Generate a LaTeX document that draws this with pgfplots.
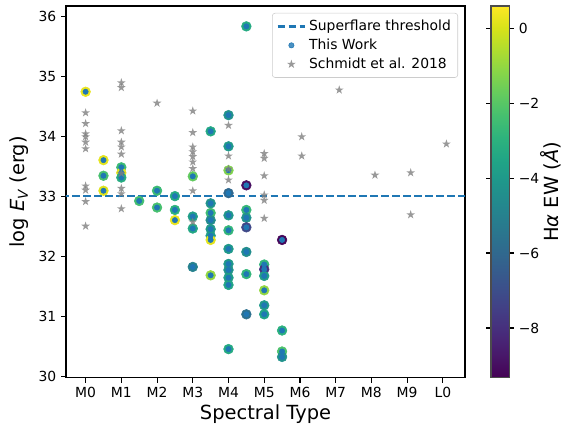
\documentclass[border=0pt]{standalone}
\usepackage{fontspec}
\setmainfont{DejaVu Sans}
\usepackage{pgfplots}
\usepackage{pgfplotstable}
\pgfplotsset{compat=1.18}

\definecolor{cblue}{HTML}{1F77B4}
\definecolor{mgray}{HTML}{808080}

\pgfplotsset{
  lineleg/.style={legend image code/.code={\draw[##1] (0pt,0pt) -- (20pt,0pt);}},
  markleg/.style={legend image code/.code={\draw[mark repeat=2, mark phase=2, ##1] plot coordinates {(0pt,0pt) (10pt,0pt) (20pt,0pt)};}},
}

% filled five-pointed star, like matplotlib '*'
\pgfdeclareplotmark{fstar}{%
  \pgfpathmoveto{\pgfpointpolar{90}{\pgfplotmarksize}}%
  \pgfpathlineto{\pgfpointpolar{126}{0.382\pgfplotmarksize}}%
  \pgfpathlineto{\pgfpointpolar{162}{\pgfplotmarksize}}%
  \pgfpathlineto{\pgfpointpolar{198}{0.382\pgfplotmarksize}}%
  \pgfpathlineto{\pgfpointpolar{234}{\pgfplotmarksize}}%
  \pgfpathlineto{\pgfpointpolar{270}{0.382\pgfplotmarksize}}%
  \pgfpathlineto{\pgfpointpolar{306}{\pgfplotmarksize}}%
  \pgfpathlineto{\pgfpointpolar{342}{0.382\pgfplotmarksize}}%
  \pgfpathlineto{\pgfpointpolar{18}{\pgfplotmarksize}}%
  \pgfpathlineto{\pgfpointpolar{54}{0.382\pgfplotmarksize}}%
  \pgfpathclose
  \pgfusepathqfill}

% this work: spectral type (M0=0), log E, H-alpha EW
\pgfplotstableread{
x y c
0 34.74 0.3
0.5 33.60 0.2
0.5 33.34 -2.3
0.5 33.09 0.1
1 33.48 -2.6
1 33.39 0.2
1 33.31 -3.2
1.5 32.92 -2.4
2 33.09 -2.6
2 32.81 -2.3
2.5 33.00 -3.3
2.5 32.77 -3.0
2.5 32.60 0.3
3 33.33 -1.8
3 32.66 -3.8
3 32.46 -3.4
3 31.82 -5.0
3.5 34.08 -3.4
3.5 32.88 -4.3
3.5 32.72 -2.5
3.5 32.60 -4.6
3.5 32.45 -4.0
3.5 32.34 -3.9
3.5 32.27 0.2
3.5 31.68 -1.0
4 34.35 -4.3
4 33.83 -4.0
4 33.43 -1.3
4 33.05 -6.0
4 32.68 -4.1
4 32.43 -2.8
4 32.12 -4.0
4 31.87 -4.0
4 31.77 -4.3
4 31.64 -3.8
4 31.52 -3.5
4 30.45 -3.3
4.5 35.83 -3.3
4.5 33.18 -9.0
4.5 32.77 -2.7
4.5 32.64 -4.3
4.5 32.48 -7.2
4.5 32.07 -4.5
4.5 31.70 -2.8
4.5 31.03 -5.7
5 31.86 -2.8
5 31.78 -8.0
5 31.67 -3.8
5 31.43 -1.0
5 31.18 -4.0
5 31.03 -3.6
5.5 32.27 -9.2
5.5 30.76 -3.0
5.5 30.41 -2.2
5.5 30.32 -4.3
}\thiswork

% Schmidt et al. 2018
\pgfplotstableread{
x y
0 34.39
0 34.21
0 34.04
0 33.99
0 33.90
0 33.79
0 33.17
0 33.10
0 32.91
0 32.50
1 34.89
1 34.81
1 34.09
1 33.90
1 33.82
1 33.70
1 33.38
1 33.13
1 33.04
1 32.79
2 34.55
3 34.42
3 34.06
3 33.82
3 33.74
3 33.66
3 33.57
3 33.46
3 33.09
3 32.57
4 34.18
4 33.67
4 33.45
4 33.27
5 33.71
5 33.63
5 33.34
5 33.02
5 32.93
5 32.63
6.05 33.99
6.05 33.67
7.1 34.77
8.1 33.35
9.1 33.39
9.1 32.69
10.1 33.87
}\schmidt

\begin{document}
\begin{tikzpicture}
\useasboundingbox (-47.5pt,-33.8pt) rectangle (358.6pt,272.1pt);
\begin{axis}[
    width=287.3pt, height=267.8pt, scale only axis,
    xmin=-0.55, xmax=10.62,
    ymin=29.97, ymax=36.17,
    xtick={0,1,2,3,4,5,6,7,8,9,10},
    xticklabels={M0,M1,M2,M3,M4,M5,M6,M7,M8,M9,L0},
    ytick={30,31,32,33,34,35,36},
    xtick pos=bottom, ytick pos=left,
    tick align=outside, major tick length=3.5pt,
    tick style={black, line width=0.8pt},
    axis line style={line width=0.8pt},
    ticklabel style={font=\fontsize{10}{12}\selectfont},
    /pgf/number format/assume math mode=true,
    xlabel={Spectral Type},
    xlabel style={yshift=2pt},
    ylabel={log {\itshape E}\textsubscript{\itshape V} (erg)},
    label style={font=\fontsize{14}{17}\selectfont},
    colormap name=viridis,
    point meta min=-9.33, point meta max=0.59,
    colorbar,
    colorbar style={
        at={(parent axis.north east)}, anchor=north west, xshift=10.2pt,
        width=13pt,
        ytick={-8,-6,-4,-2,0},
        yticklabels={−8,−6,−4,−2,0},
        tick align=outside, major tick length=3.5pt,
        tick style={black, line width=0.8pt},
        axis line style={line width=0.8pt, black!70},
        yticklabel style={font=\fontsize{10}{12}\selectfont},
        ylabel={H{\itshape α} EW ({\itshape Å})},
        every axis y label/.style={at={(axis description cs:1,0.5)},
            xshift=30pt, rotate=90, anchor=center,
            font=\fontsize{14}{17}\selectfont},
    },
    legend style={at={(1,1)}, anchor=north east, xshift=-5pt, yshift=-5pt,
        draw=black!20, rounded corners=2pt, fill=white, fill opacity=0.8,
        text opacity=1, font=\fontsize{10}{12}\selectfont,
        row sep=0.5pt, inner sep=3pt},
    legend cell align=left,
]

\addplot[cblue, line width=1.5pt, dash pattern=on 5.55pt off 2.4pt, lineleg]
    coordinates {(-1,33) (12,33)};
\addlegendentry{Superflare threshold}

\addplot[scatter, only marks, mark=*, mark size=3.5pt, scatter src=explicit,
    scatter/use mapped color={draw=mapped color, fill=mapped color},
    forget plot] table[x=x, y=y, meta=c] {\thiswork};

\addplot[only marks, mark=*, mark size=1.9pt, cblue,
    mark options={draw=cblue, fill=cblue}, markleg]
    table[x=x, y=y] {\thiswork};
\addlegendentry{This Work}

\addplot[only marks, mark=fstar, mark size=3.3pt, mgray, opacity=0.8, markleg]
    table[x=x, y=y] {\schmidt};
\addlegendentry{Schmidt et al. 2018}

\end{axis}
\end{tikzpicture}
\end{document}
